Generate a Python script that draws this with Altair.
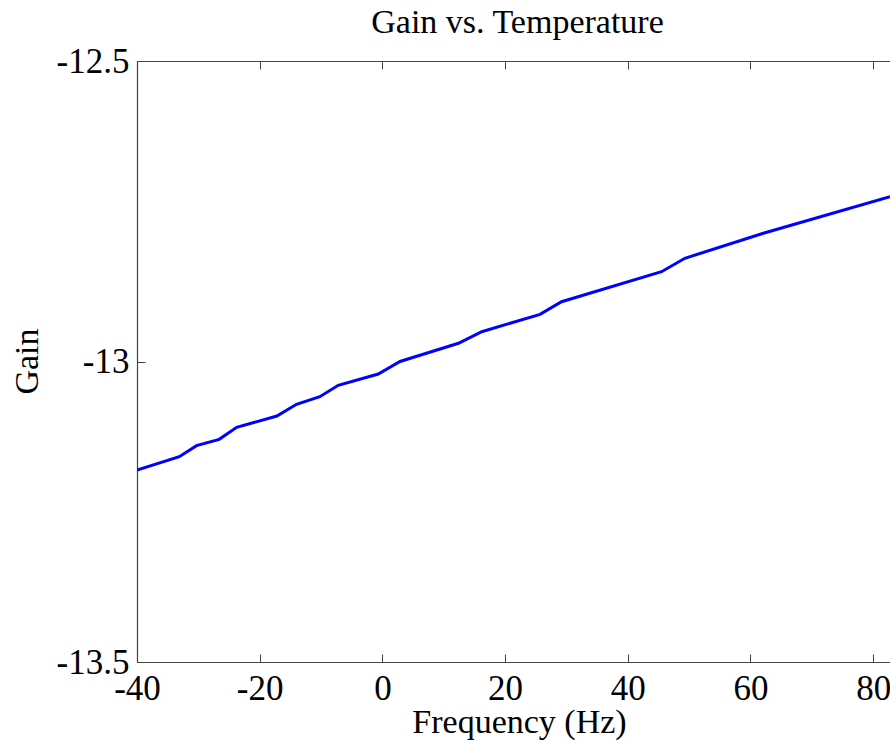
import altair as alt
import pandas as pd

# Data
temperature = [-40.0, -33.1, -30.3, -26.6, -23.75, -17.2, -14.0, -10.2, -7.2, -0.67,
               2.87, 12.4, 16.2, 25.7, 29.2, 45.5, 49.3, 62.1, 82.74]
gain = [-13.1805, -13.1584, -13.140, -13.1295, -13.1095, -13.0907, -13.0712, -13.0586,
        -13.0396, -13.0208, -13.0, -12.9697, -12.9504, -12.9215, -12.9005, -12.8506,
        -12.8283, -12.7867, -12.7258]
x_ticks = [-40, -20, 0, 20, 40, 60, 80]
y_ticks = [-13.5, -13.0, -12.5]
chart_title = "Gain vs. Temperature"

df = pd.DataFrame({"temp": temperature, "gain": gain})

W, H = 753, 601
FONT = "Liberation Serif"
FS = 34
LFS = 35
AX = "#444444"

xscale = alt.Scale(domain=[-40, 82.74], nice=False, zero=False)
yscale = alt.Scale(domain=[-13.5, -12.5], nice=False, zero=False)

base = alt.Chart(df)

main = base.mark_line(color="#0000ff", strokeWidth=3, clip=True).encode(
    x=alt.X("temp:Q", scale=xscale,
            axis=alt.Axis(orient="bottom", values=x_ticks, ticks=False, tickSize=0,
                          labelExpr="datum.value + ''", labelPadding=9,
                          labelFont=FONT, labelFontSize=LFS, labelColor="black",
                          labelFlush=False, labelOverlap=False,
                          domainColor=AX, domainWidth=1.2, grid=False,
                          title="Frequency (Hz)", titleFont=FONT, titleFontSize=FS,
                          titleFontWeight="normal", titleColor="black",
                          titleX=382, titleY=70, titleBaseline="alphabetic",
                          titleAnchor="start", titleAlign="center")),
    y=alt.Y("gain:Q", scale=yscale,
            axis=alt.Axis(orient="left", values=y_ticks, ticks=False, tickSize=0,
                          labelExpr="datum.value + ''", labelPadding=8,
                          labelFont=FONT, labelFontSize=LFS, labelColor="black",
                          labelFlush=False, labelOverlap=False,
                          domainColor=AX, domainWidth=1.2, grid=False,
                          title="Gain", titleFont=FONT, titleFontSize=FS,
                          titleFontWeight="normal", titleColor="black",
                          titleAngle=-90, titleX=-100, titleY=300,
                          titleBaseline="alphabetic", titleAlign="center",
                          titleAnchor="start")),
)

# top frame line with inward ticks (carries the chart title), inward ticks on the left
ticks_a = base.mark_line(opacity=0).encode(
    x=alt.X("temp:Q", scale=xscale,
            axis=alt.Axis(orient="bottom", offset=-H, values=x_ticks, labels=False,
                          ticks=True, tickSize=8, tickColor=AX, tickWidth=1,
                          domain=True, domainColor=AX, domainWidth=1.2,
                          grid=False,
                          title=chart_title, titleFont=FONT, titleFontSize=FS,
                          titleFontWeight="normal", titleColor="black",
                          titleX=380, titleY=-29, titleBaseline="alphabetic",
                          titleAnchor="start", titleAlign="center")),
    y=alt.Y("gain:Q", scale=yscale,
            axis=alt.Axis(orient="right", offset=-W, values=y_ticks, labels=False,
                          ticks=True, tickSize=8, tickColor=AX, tickWidth=1,
                          domain=False, grid=False, title=None)),
)

# inward ticks on the bottom
ticks_b = base.mark_line(opacity=0).encode(
    x=alt.X("temp:Q", scale=xscale,
            axis=alt.Axis(orient="top", offset=-H, values=x_ticks, labels=False,
                          ticks=True, tickSize=8, tickColor=AX, tickWidth=1,
                          domain=False, grid=False, title=None)),
    y=alt.Y("gain:Q", scale=yscale, axis=None),
)

chart = alt.layer(main, ticks_a, ticks_b).resolve_axis(
    x="independent", y="independent"
).properties(
    width=W, height=H,
    autosize=alt.AutoSizeParams(type="none"),
    padding={"left": 137, "top": 61, "right": 0, "bottom": 81},
).configure_view(stroke=None).configure(background="white")

chart.save("out.html", embed_options={"renderer": "svg", "actions": False})
